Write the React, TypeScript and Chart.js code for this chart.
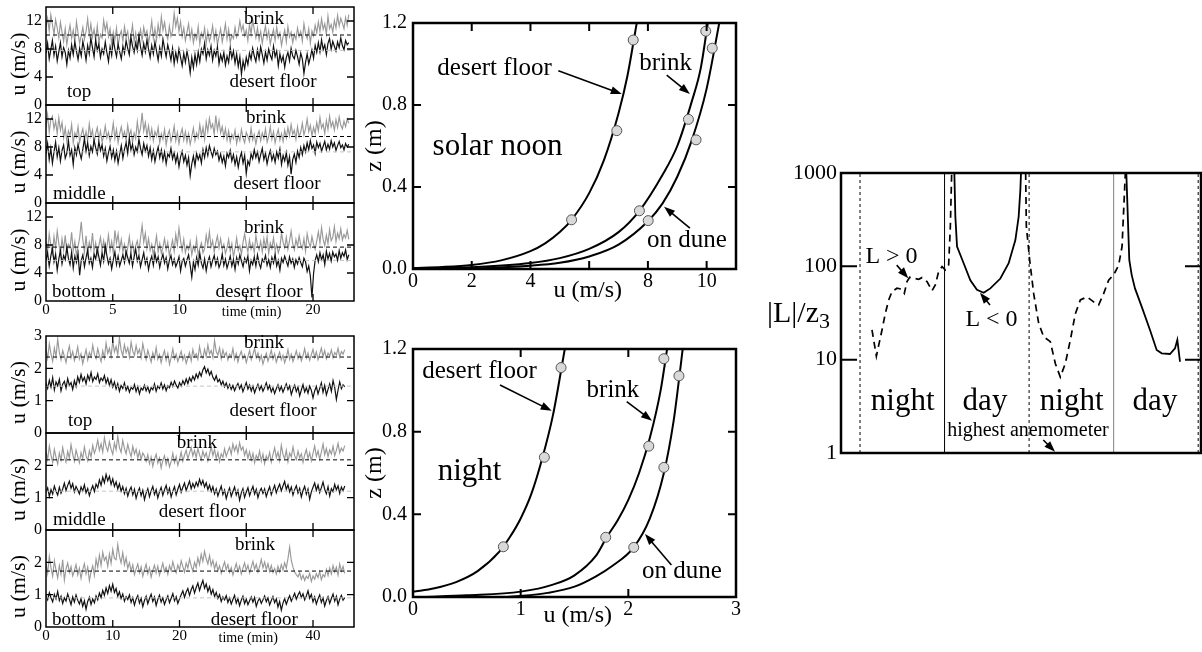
import { useEffect, useRef } from "react";
import { Chart, registerables } from "chart.js";

Chart.register(...registerables);

const PAGE_W = 1202;
const PAGE_H = 652;
const SERIF = '"Liberation Serif", "Times New Roman", "DejaVu Serif", serif';

// ---------- wind speed records (m/s) around solar noon, one sample every 0.12 min ----------
const NOON_STEP = 0.12;
const NOON_TOP_BRINK = [
  11.2, 12.4, 10.6, 12.9, 11.5, 10.1, 12.2, 11.0, 9.6, 11.8, 10.4, 9.1, 10.9, 8.6, 10.2, 11.4, 9.5, 10.7, 9.0, 11.9,
  10.3, 8.8, 9.9, 11.1, 9.4, 10.5, 12.3, 10.0, 11.6, 9.7, 10.8, 9.2, 11.3, 8.9, 10.1, 9.6, 12.1, 10.6, 11.7, 9.8,
  10.9, 8.7, 10.4, 9.3, 11.0, 8.5, 9.9, 10.6, 9.1, 11.2, 9.7, 10.5, 8.6, 9.8, 11.4, 9.0, 10.3, 8.4, 9.6, 10.8,
  9.2, 11.1, 9.9, 10.6, 8.8, 10.2, 12.0, 9.5, 10.9, 9.3, 11.5, 10.0, 12.6, 10.7, 11.8, 10.2, 9.4, 11.3, 9.8, 10.6,
  13.1, 11.2, 12.4, 10.5, 11.9, 9.8, 11.0, 9.2, 10.4, 11.6, 9.5, 10.8, 8.9, 10.1, 9.4, 11.2, 8.7, 10.3, 9.6, 11.0,
  8.8, 10.5, 9.1, 9.9, 11.3, 9.3, 10.6, 8.6, 9.8, 10.9, 9.0, 10.2, 11.6, 9.4, 10.8, 8.9, 10.0, 9.5, 11.1, 9.7,
  10.4, 12.0, 10.6, 11.4, 9.9, 10.7, 9.2, 11.5, 10.1, 12.2, 10.8, 9.6, 11.0, 9.3, 10.5, 8.8, 10.2, 11.3, 9.5, 10.6,
  8.7, 9.9, 10.8, 9.2, 11.1, 9.6, 10.3, 8.5, 9.8, 10.7, 9.0, 11.2, 9.7, 10.4, 8.9, 10.1, 9.4, 11.0, 9.8, 10.5,
  9.1, 11.6, 10.2, 9.5, 10.9, 8.8, 10.6, 9.9, 11.4, 10.3, 11.9, 10.5, 12.3, 10.8, 11.6, 10.1, 12.7, 10.9, 11.5, 10.4,
  12.1, 11.0, 12.8, 11.3, 12.4, 11.7, 10.9, 12.5, 11.4, 12.9,
];
const NOON_TOP_FLOOR = [
  7.4, 8.8, 6.6, 7.9, 9.2, 7.1, 8.4, 6.3, 7.6, 8.9, 6.9, 8.2, 7.5, 5.8, 7.8, 6.7, 8.6, 7.2, 9.0, 7.7,
  6.5, 8.1, 7.0, 9.1, 7.9, 6.4, 8.5, 7.3, 9.6, 8.2, 6.9, 9.3, 7.8, 8.7, 6.8, 8.0, 7.3, 9.0, 7.5, 6.2,
  8.3, 7.1, 9.4, 8.0, 6.9, 8.7, 7.6, 6.6, 8.4, 7.4, 9.2, 8.1, 7.2, 9.7, 8.4, 7.5, 8.9, 7.8, 9.9, 8.3,
  7.1, 8.8, 7.6, 9.3, 8.0, 6.8, 8.5, 7.3, 9.0, 7.7, 6.4, 8.2, 7.0, 9.4, 8.1, 6.9, 8.6, 7.6, 6.4, 8.1,
  5.9, 7.5, 6.3, 8.0, 6.8, 5.6, 7.4, 6.1, 7.7, 6.5, 4.6, 6.8, 5.3, 7.2, 5.8, 7.6, 6.2, 8.0, 7.3, 8.8,
  6.6, 7.9, 7.1, 8.4, 6.4, 7.8, 7.0, 8.3, 5.9, 7.2, 6.3, 7.5, 5.7, 7.0, 6.1, 8.2, 6.7, 7.7, 6.0, 7.3,
  5.5, 6.9, 4.4, 6.3, 5.2, 6.8, 5.8, 7.4, 6.5, 8.1, 7.0, 6.2, 7.9, 6.6, 8.3, 7.2, 6.0, 7.6, 6.4, 8.0,
  7.1, 6.5, 8.4, 6.9, 7.7, 5.6, 7.3, 6.2, 7.0, 5.4, 6.8, 7.5, 6.3, 8.1, 7.0, 6.6, 7.8, 6.9, 5.8, 7.4,
  6.6, 4.5, 6.1, 7.3, 5.9, 6.8, 7.9, 6.7, 8.5, 7.5, 8.9, 7.6, 9.3, 7.9, 8.6, 7.2, 8.8, 9.5, 8.0, 9.1,
  8.4, 7.7, 9.0, 8.2, 9.6, 8.5, 7.9, 9.2, 8.6, 8.9,
];
const NOON_MID_BRINK = [
  10.8, 12.6, 10.1, 11.9, 12.4, 10.6, 11.7, 9.9, 12.2, 10.4, 11.5, 9.3, 10.7, 8.8, 10.3, 9.6, 11.2, 8.6, 10.0, 9.4,
  10.9, 8.7, 9.8, 10.6, 9.0, 10.2, 8.9, 11.3, 9.5, 10.4, 8.5, 9.9, 10.8, 9.1, 10.3, 8.7, 9.6, 11.0, 9.3, 10.1,
  8.8, 9.7, 11.4, 9.2, 10.5, 8.6, 9.9, 10.9, 9.4, 10.2, 8.9, 11.1, 9.6, 10.4, 8.7, 10.0, 9.2, 11.6, 9.8, 10.7,
  12.9, 10.3, 11.5, 9.6, 11.0, 9.3, 10.6, 8.9, 10.2, 9.5, 10.8, 8.6, 9.9, 9.1, 10.5, 8.3, 9.7, 10.4, 8.8, 9.6,
  11.0, 8.9, 10.1, 8.5, 9.8, 10.6, 9.0, 10.2, 8.7, 9.9, 8.4, 9.5, 10.7, 8.9, 10.0, 9.3, 11.2, 9.6, 10.8, 9.1,
  11.6, 10.2, 12.1, 10.7, 11.3, 9.8, 12.5, 10.4, 11.8, 10.0, 10.9, 9.4, 10.6, 9.0, 10.3, 8.7, 9.8, 9.2, 10.4, 8.5,
  9.7, 8.9, 10.5, 9.3, 8.6, 10.1, 9.5, 8.8, 10.7, 9.0, 9.8, 8.4, 9.6, 10.3, 8.9, 10.0, 9.2, 10.6, 8.7, 9.5,
  10.9, 9.1, 10.2, 8.6, 9.7, 10.5, 9.0, 9.9, 8.8, 10.4, 9.3, 10.8, 9.6, 11.2, 9.8, 10.4, 9.1, 10.9, 9.5, 10.1,
  11.4, 9.7, 10.6, 12.0, 10.2, 11.1, 9.6, 10.8, 9.9, 11.5, 10.3, 12.2, 10.7, 11.3, 9.9, 11.8, 10.5, 12.4, 10.9, 11.6,
  10.4, 11.9, 10.8, 12.3, 11.1, 10.6, 11.7, 10.9, 12.0, 11.4,
];
const NOON_MID_FLOOR = [
  7.0, 8.5, 6.2, 7.8, 5.7, 7.3, 8.7, 6.6, 7.9, 6.0, 7.5, 8.3, 6.4, 7.1, 8.9, 6.8, 7.6, 5.5, 7.9, 6.9,
  8.4, 7.2, 6.3, 7.7, 9.2, 7.4, 8.6, 6.8, 8.1, 7.3, 9.0, 7.9, 7.0, 8.8, 7.5, 8.3, 6.7, 7.8, 6.0, 7.2,
  8.1, 6.5, 7.6, 6.1, 7.4, 5.7, 7.0, 8.2, 6.4, 7.7, 8.6, 7.1, 9.3, 7.6, 8.4, 6.9, 8.0, 7.3, 9.1, 7.8,
  6.9, 8.5, 7.4, 8.2, 6.7, 7.9, 6.2, 7.5, 5.9, 7.1, 8.0, 6.5, 7.6, 6.1, 7.3, 5.6, 7.0, 6.6, 7.8, 6.3,
  7.2, 5.8, 6.9, 5.2, 6.6, 7.4, 5.9, 6.8, 5.4, 6.5, 3.9, 5.6, 6.7, 5.3, 7.1, 6.2, 6.9, 5.7, 7.6, 6.5,
  7.9, 6.8, 8.2, 7.3, 6.6, 7.8, 6.9, 7.4, 6.1, 7.0, 5.8, 6.7, 5.3, 7.1, 6.5, 7.5, 6.0, 6.9, 5.5, 6.6,
  5.1, 6.4, 7.2, 5.7, 6.8, 4.2, 6.0, 5.4, 7.0, 6.3, 7.6, 6.5, 7.3, 5.9, 6.9, 7.8, 6.2, 7.1, 5.6, 6.7,
  7.5, 6.1, 6.9, 5.8, 7.3, 6.4, 7.7, 5.5, 6.8, 6.0, 7.2, 5.4, 6.6, 4.1, 6.2, 7.0, 5.8, 7.4, 6.5, 7.9,
  6.9, 8.2, 7.3, 8.6, 7.6, 8.9, 7.8, 8.3, 7.1, 8.7, 7.9, 8.5, 7.4, 8.1, 8.8, 7.6, 8.4, 7.7, 8.9, 8.0,
  8.6, 7.5, 8.2, 8.8, 7.9, 8.3, 7.6, 8.5, 8.0, 8.4,
];
const NOON_BOT_BRINK = [
  8.4, 7.1, 9.6, 8.0, 6.8, 9.2, 7.5, 10.0, 8.2, 6.6, 8.9, 7.3, 9.4, 6.9, 8.1, 7.6, 9.8, 7.2, 8.5, 6.5,
  7.8, 9.0, 11.3, 8.7, 7.0, 9.3, 6.7, 8.4, 7.4, 9.7, 7.1, 8.3, 6.6, 7.9, 9.1, 7.3, 8.6, 6.9, 7.7, 9.4,
  7.2, 8.5, 6.8, 10.1, 8.3, 9.6, 7.4, 8.8, 7.0, 8.1, 6.4, 7.6, 9.2, 7.1, 8.3, 6.7, 7.9, 8.6, 7.0, 9.0,
  10.8, 8.4, 9.7, 7.5, 8.9, 7.2, 8.1, 6.6, 7.8, 9.3, 7.0, 8.2, 6.8, 7.7, 8.9, 7.3, 8.4, 6.5, 7.6, 8.7,
  7.1, 9.5, 8.0, 10.4, 8.6, 7.2, 8.8, 6.9, 7.9, 7.3, 8.5, 6.6, 7.8, 7.1, 8.9, 6.4, 7.6, 8.3, 6.9, 7.5,
  9.4, 8.0, 9.9, 7.7, 8.6, 7.0, 8.3, 9.3, 7.6, 8.9, 7.4, 8.1, 6.8, 7.6, 8.8, 7.1, 8.2, 6.3, 7.5, 9.0,
  7.2, 7.9, 6.7, 8.4, 9.6, 8.1, 7.0, 8.7, 7.4, 8.2, 6.9, 9.4, 8.0, 7.3, 8.5, 7.0, 8.9, 7.6, 9.2, 6.8,
  8.3, 7.5, 9.0, 7.2, 8.1, 6.9, 7.7, 9.7, 8.4, 7.6, 9.1, 7.4, 8.6, 10.0, 8.2, 7.3, 8.8, 7.8, 9.3, 8.0,
  7.5, 8.9, 7.1, 9.6, 8.4, 7.7, 9.2, 8.1, 7.4, 8.6, 9.9, 8.3, 10.5, 8.8, 7.9, 9.4, 8.2, 10.2, 8.6, 9.1,
  10.6, 8.5, 9.7, 8.9, 10.3, 8.7, 9.5, 9.0, 10.1, 8.8,
];
const NOON_BOT_FLOOR = [
  5.8, 6.9, 5.0, 6.4, 7.5, 5.6, 6.7, 4.4, 6.0, 7.2, 5.3, 6.5, 5.9, 7.7, 6.1, 5.2, 7.0, 4.7, 6.4, 5.5,
  6.8, 3.7, 5.8, 6.6, 4.9, 6.2, 7.3, 5.4, 6.1, 4.8, 6.7, 6.0, 7.4, 6.3, 5.1, 6.9, 5.7, 7.9, 6.5, 5.3,
  6.1, 4.6, 5.9, 7.0, 5.2, 6.4, 5.0, 5.8, 6.6, 5.5, 7.1, 6.2, 5.4, 6.8, 5.0, 6.3, 7.4, 5.7, 6.5, 4.9,
  5.9, 6.9, 5.3, 6.1, 4.5, 5.7, 6.4, 5.1, 6.8, 5.6, 6.3, 4.8, 5.9, 6.7, 5.4, 6.2, 4.6, 5.8, 6.5, 5.2,
  6.0, 4.9, 5.5, 6.3, 4.3, 5.7, 6.1, 5.0, 5.9, 6.6, 5.1, 3.4, 5.6, 4.5, 6.2, 5.1, 6.8, 5.4, 4.7, 6.0,
  4.3, 5.6, 6.3, 4.9, 5.8, 6.5, 5.2, 6.1, 4.8, 5.4, 6.7, 5.1, 6.0, 4.7, 5.5, 6.4, 5.0, 5.9, 4.5, 6.2,
  5.3, 6.6, 5.7, 4.9, 6.1, 5.5, 6.4, 4.3, 5.8, 5.2, 6.3, 5.0, 6.6, 5.4, 4.7, 6.0, 5.6, 6.5, 5.1, 5.9,
  4.8, 6.2, 5.4, 6.7, 5.0, 5.8, 4.4, 6.1, 5.5, 6.4, 5.7, 5.0, 6.3, 5.4, 6.0, 4.8, 5.9, 5.3, 6.2, 5.5,
  4.9, 6.1, 5.6, 4.2, 5.0, 3.6, 0.5, 3.9, 5.8, 6.6, 5.6, 6.9, 5.9, 6.6, 5.2, 7.1, 6.0, 6.8, 5.7, 7.0,
  6.3, 6.7, 5.8, 7.2, 6.1, 6.9, 6.4, 7.3, 5.9, 6.6,
];

// ---------- wind speed records (m/s) at night, one sample every 0.25 min ----------
const NIGHT_STEP = 0.25;
const NIGHT_TOP_BRINK = [
  2.58, 2.31, 2.76, 2.44, 2.22, 2.63, 2.36, 2.91, 2.49, 2.27, 2.55, 2.38, 2.18, 2.47, 2.69, 2.33, 2.52, 2.24, 2.41, 2.66,
  2.29, 2.45, 2.14, 2.37, 2.58, 2.26, 2.49, 2.35, 2.72, 2.43, 2.30, 2.61, 2.39, 2.21, 2.54, 2.32, 2.78, 2.46, 2.62, 2.37,
  2.85, 2.51, 2.68, 2.42, 2.94, 2.57, 2.39, 2.73, 2.48, 2.64, 2.35, 2.81, 2.53, 2.40, 2.70, 2.45, 2.59, 2.33, 2.76, 2.50,
  2.27, 2.56, 2.38, 2.19, 2.48, 2.31, 2.64, 2.28, 2.43, 2.17, 2.39, 2.55, 2.25, 2.46, 2.12, 2.34, 2.60, 2.29, 2.44, 2.21,
  2.37, 2.53, 2.26, 2.41, 2.15, 2.32, 2.49, 2.23, 2.58, 2.36, 2.45, 2.28, 2.67, 2.40, 2.31, 2.59, 2.37, 2.72, 2.44, 2.55,
  2.34, 2.86, 2.52, 2.41, 2.63, 2.30, 2.57, 2.38, 2.49, 2.26, 2.44, 2.35, 2.61, 2.28, 2.46, 2.20, 2.39, 2.53, 2.30, 2.42,
  2.18, 2.36, 2.55, 2.27, 2.43, 2.62, 2.33, 2.48, 2.24, 2.40, 2.13, 2.31, 2.47, 2.22, 2.38, 2.56, 2.29, 2.45, 2.19, 2.35,
  2.50, 2.26, 2.41, 2.17, 2.33, 2.58, 2.28, 2.44, 2.21, 2.37, 2.54, 2.30, 2.46, 2.23, 2.39, 2.61, 2.32, 2.48, 2.25, 2.42,
  2.59, 2.34, 2.51, 2.27, 2.44, 2.63, 2.36, 2.55, 2.30, 2.47, 2.38, 2.57, 2.33, 2.49, 2.41, 2.62, 2.35, 2.52, 2.44, 2.58,
];
const NIGHT_TOP_FLOOR = [
  1.55, 1.38, 1.63, 1.42, 1.71, 1.33, 1.58, 1.46, 1.66, 1.30, 1.51, 1.60, 1.39, 1.68, 1.47, 1.56, 1.35, 1.62, 1.44, 1.74,
  1.57, 1.81, 1.61, 1.72, 1.52, 1.79, 1.64, 1.87, 1.59, 1.73, 1.66, 1.83, 1.56, 1.70, 1.62, 1.78, 1.54, 1.69, 1.47, 1.65,
  1.42, 1.58, 1.36, 1.53, 1.29, 1.47, 1.38, 1.55, 1.32, 1.44, 1.26, 1.41, 1.35, 1.50, 1.28, 1.44, 1.21, 1.39, 1.33, 1.48,
  1.30, 1.43, 1.25, 1.40, 1.34, 1.52, 1.29, 1.45, 1.38, 1.55, 1.36, 1.49, 1.31, 1.46, 1.40, 1.57, 1.44, 1.61, 1.48, 1.39,
  1.56, 1.45, 1.62, 1.50, 1.67, 1.53, 1.71, 1.60, 1.76, 1.64, 1.82, 1.70, 1.88, 1.76, 1.95, 2.05, 1.86, 1.98, 1.79, 1.90,
  1.72, 1.63, 1.77, 1.58, 1.66, 1.49, 1.60, 1.43, 1.55, 1.38, 1.50, 1.35, 1.47, 1.31, 1.44, 1.53, 1.37, 1.49, 1.28, 1.42,
  1.56, 1.36, 1.48, 1.30, 1.45, 1.24, 1.39, 1.51, 1.33, 1.46, 1.29, 1.41, 1.55, 1.35, 1.47, 1.27, 1.40, 1.22, 1.37, 1.49,
  1.31, 1.44, 1.26, 1.39, 1.52, 1.34, 1.46, 1.19, 1.36, 1.48, 1.28, 1.42, 1.15, 1.33, 1.50, 1.27, 1.40, 1.23, 1.45, 1.32,
  1.09, 1.30, 1.44, 1.21, 1.38, 1.55, 1.26, 1.47, 1.18, 1.35, 1.52, 1.29, 1.62, 1.40, 1.04, 1.33, 1.58, 1.37, 1.49, 1.43,
];
const NIGHT_MID_BRINK = [
  2.42, 2.18, 2.60, 2.31, 2.09, 2.49, 2.25, 2.04, 2.38, 2.16, 2.55, 2.27, 2.10, 2.43, 2.22, 2.64, 2.35, 2.13, 2.47, 2.28,
  2.08, 2.39, 2.21, 2.57, 2.30, 2.14, 2.45, 2.26, 2.62, 2.37, 2.53, 2.78, 2.46, 2.67, 2.41, 2.86, 2.58, 2.44, 2.73, 2.50,
  2.34, 2.69, 2.48, 2.91, 2.55, 2.40, 2.77, 2.52, 2.36, 2.65, 2.43, 2.27, 2.59, 2.35, 2.50, 2.22, 2.44, 2.18, 2.38, 2.29,
  2.12, 2.33, 2.05, 2.26, 1.97, 2.19, 2.34, 2.07, 2.23, 1.92, 2.15, 2.30, 2.02, 2.21, 1.95, 2.12, 2.37, 2.08, 2.27, 2.00,
  2.18, 2.41, 2.13, 2.32, 2.47, 2.20, 2.38, 2.55, 2.29, 2.46, 2.24, 2.52, 2.33, 2.17, 2.44, 2.26, 2.39, 2.14, 2.35, 2.58,
  2.30, 2.49, 2.21, 2.40, 2.12, 2.36, 2.25, 2.51, 2.28, 2.43, 2.56, 2.34, 2.66, 2.45, 2.61, 2.38, 2.70, 2.47, 2.57, 2.31,
  2.48, 2.22, 2.42, 2.16, 2.37, 2.08, 2.31, 2.19, 2.44, 2.13, 2.35, 2.05, 2.29, 2.17, 2.40, 2.10, 2.33, 2.54, 2.24, 2.41,
  2.15, 2.62, 2.34, 2.20, 2.47, 2.11, 2.38, 2.26, 2.57, 2.30, 2.18, 2.44, 2.23, 2.36, 2.09, 2.32, 2.49, 2.21, 2.39, 2.14,
  2.37, 2.60, 2.28, 2.45, 2.19, 2.41, 2.66, 2.33, 2.52, 2.27, 2.48, 2.35, 2.59, 2.30, 2.46, 2.68, 2.39, 2.53, 2.44, 2.61,
];
const NIGHT_MID_FLOOR = [
  1.16, 1.30, 1.04, 1.25, 1.11, 1.36, 1.20, 1.08, 1.32, 1.14, 1.27, 1.45, 1.22, 1.38, 1.51, 1.29, 1.43, 1.18, 1.35, 1.24,
  1.12, 1.33, 1.21, 1.40, 1.15, 1.28, 1.06, 1.24, 1.37, 1.19, 1.42, 1.31, 1.55, 1.38, 1.63, 1.46, 1.72, 1.52, 1.66, 1.41,
  1.58, 1.35, 1.49, 1.27, 1.43, 1.20, 1.34, 1.12, 1.29, 1.05, 1.22, 1.33, 1.09, 1.26, 0.98, 1.17, 1.30, 1.06, 1.23, 0.94,
  1.14, 1.28, 1.03, 1.21, 1.35, 1.10, 1.25, 0.99, 1.18, 1.32, 1.07, 1.24, 1.38, 1.13, 1.29, 1.02, 1.20, 1.34, 1.09, 1.26,
  1.41, 1.17, 1.32, 1.45, 1.22, 1.37, 1.51, 1.28, 1.44, 1.31, 1.48, 1.36, 1.57, 1.40, 1.53, 1.33, 1.46, 1.25, 1.39, 1.19,
  1.34, 1.12, 1.27, 1.05, 1.21, 1.36, 1.10, 1.24, 0.97, 1.16, 1.30, 1.04, 1.19, 1.33, 1.08, 1.23, 0.92, 1.14, 1.28, 1.01,
  1.17, 1.31, 1.06, 1.22, 1.35, 1.11, 1.26, 1.00, 1.19, 1.29, 1.13, 1.27, 1.03, 1.20, 1.34, 1.09, 1.24, 1.38, 1.15, 1.30,
  1.42, 1.21, 1.36, 1.50, 1.26, 1.40, 1.18, 1.33, 1.08, 1.25, 1.37, 1.14, 1.29, 1.02, 1.22, 1.35, 1.11, 1.27, 0.95, 1.18,
  1.32, 1.45, 1.23, 1.39, 1.16, 1.31, 1.48, 1.26, 1.12, 1.34, 1.05, 1.28, 1.19, 1.41, 1.24, 1.37, 1.13, 1.33, 1.21, 1.36,
];
const NIGHT_BOT_BRINK = [
  1.95, 1.66, 2.18, 1.83, 1.57, 2.05, 1.76, 1.52, 1.90, 1.63, 2.08, 1.45, 1.80, 1.98, 1.69, 1.87, 1.58, 1.74, 1.93, 1.61,
  1.82, 1.50, 1.77, 1.96, 1.64, 1.85, 1.43, 1.71, 1.89, 1.60, 2.10, 1.84, 2.22, 1.91, 2.31, 2.06, 2.17, 1.88, 2.26, 1.97,
  2.40, 2.12, 2.08, 2.55, 2.19, 1.98, 2.30, 1.92, 2.14, 1.81, 1.99, 1.73, 1.92, 1.62, 1.80, 1.95, 1.68, 1.86, 1.57, 1.77,
  1.94, 1.65, 1.83, 1.54, 1.75, 1.91, 1.67, 1.88, 1.60, 1.79, 1.97, 1.71, 1.85, 1.63, 1.90, 1.74, 2.02, 1.81, 1.68, 1.92,
  1.76, 2.05, 1.87, 1.70, 1.98, 1.82, 2.10, 1.89, 1.73, 2.00, 1.84, 2.14, 1.93, 2.25, 2.03, 2.34, 2.11, 1.95, 2.21, 1.90,
  2.06, 1.80, 1.99, 1.74, 1.89, 1.66, 1.86, 2.01, 1.77, 1.93, 1.69, 1.84, 1.61, 1.79, 1.96, 1.72, 1.88, 1.64, 1.82, 1.98,
  1.75, 1.91, 1.67, 1.85, 2.03, 1.78, 1.94, 1.70, 1.87, 2.09, 1.83, 2.01, 1.78, 1.96, 1.72, 1.90, 1.69, 1.81, 1.64, 1.88,
  1.71, 1.93, 1.76, 1.99, 1.82, 2.12, 2.47, 2.05, 1.85, 1.70, 1.62, 1.55, 1.68, 1.47, 1.60, 1.44, 1.57, 1.50, 1.66, 1.41,
  1.58, 1.48, 1.65, 1.53, 1.71, 1.46, 1.62, 1.55, 1.78, 1.59, 1.83, 1.64, 1.90, 1.70, 1.85, 1.61, 1.95, 1.73, 1.88, 1.66,
];
const NIGHT_BOT_FLOOR = [
  0.97, 0.84, 1.06, 0.90, 0.78, 1.01, 0.87, 1.10, 0.82, 0.95, 0.73, 0.90, 0.80, 1.02, 0.86, 0.69, 0.93, 0.77, 0.99, 0.83,
  0.71, 0.88, 0.64, 0.81, 0.55, 0.79, 0.92, 0.70, 0.87, 0.75, 0.96, 0.84, 1.05, 0.91, 1.13, 0.98, 1.21, 1.04, 1.28, 1.11,
  1.32, 1.07, 1.19, 0.95, 1.09, 0.88, 1.02, 0.80, 0.94, 0.85, 0.99, 0.76, 0.91, 0.68, 0.86, 0.97, 0.74, 0.89, 0.63, 0.82,
  0.95, 0.72, 0.88, 1.01, 0.79, 0.93, 0.67, 0.85, 0.98, 0.77, 0.90, 0.70, 0.84, 0.96, 0.75, 0.89, 1.03, 0.81, 0.94, 0.73,
  0.87, 1.00, 1.12, 0.92, 1.08, 1.19, 0.98, 1.15, 1.27, 1.05, 1.22, 1.36, 1.13, 1.30, 1.44, 1.20, 1.33, 1.10, 1.25, 1.02,
  1.16, 0.94, 1.07, 0.88, 1.00, 0.79, 0.93, 0.84, 0.97, 0.76, 0.90, 0.71, 0.85, 0.98, 0.74, 0.88, 0.66, 0.83, 0.95, 0.72,
  0.86, 0.69, 0.81, 0.93, 0.77, 0.91, 0.64, 0.80, 0.89, 0.73, 0.84, 0.96, 0.78, 0.90, 0.68, 0.82, 0.94, 0.75, 0.87, 0.62,
  0.79, 0.52, 0.74, 0.88, 0.70, 0.85, 0.97, 0.80, 0.92, 1.04, 0.86, 0.99, 1.09, 0.91, 1.03, 0.84, 0.96, 1.12, 0.89, 1.01,
  0.78, 0.93, 0.71, 0.87, 0.99, 0.76, 0.90, 0.65, 0.82, 0.94, 0.73, 0.88, 1.02, 0.80, 0.95, 0.69, 0.86, 0.98, 0.83, 0.91,
];

// Record means (dashed lines)
const NOON_BRINK_MEAN = [10.0, 9.5, 7.7];
const NOON_FLOOR_MEAN = [7.8, 7.3, 5.8];
const NIGHT_BRINK_MEAN = [2.35, 2.17, 1.73];
const NIGHT_FLOOR_MEAN = [1.45, 1.2, 0.9];

// ---------- mean velocity profiles: u (m/s) against height z (m) ----------
const NOON_FLOOR_U = [0, 1, 2, 3, 4, 4.5, 5, 5.4, 6, 6.5, 7, 7.3, 7.62];
const NOON_FLOOR_Z = [0.005, 0.01, 0.02, 0.042, 0.087, 0.125, 0.18, 0.24, 0.37, 0.53, 0.76, 0.94, 1.2];
const NOON_BRINK_U = [0, 2, 4, 5, 6, 7, 7.71, 8.5, 9, 9.5, 9.8, 10.04];
const NOON_BRINK_Z = [0.001, 0.008, 0.029, 0.053, 0.098, 0.18, 0.284, 0.46, 0.6, 0.82, 0.98, 1.2];
const NOON_DUNE_U = [0, 2, 4, 5, 6, 7, 8, 8.5, 9, 9.5, 10, 10.43];
const NOON_DUNE_Z = [0.0005, 0.003, 0.016, 0.03, 0.061, 0.119, 0.233, 0.32, 0.45, 0.63, 0.88, 1.2];
const NOON_OBS_U = [5.4, 6.94, 7.5, 7.71, 9.38, 9.97, 8.01, 9.64, 10.19];
const NOON_OBS_Z = [0.24, 0.675, 1.117, 0.284, 0.73, 1.16, 0.236, 0.63, 1.077];

const NIGHT_FLOOR_U = [0, 0.2, 0.4, 0.6, 0.8, 0.9, 1.0, 1.1, 1.2, 1.3, 1.41];
const NIGHT_FLOOR_Z = [0.025, 0.042, 0.072, 0.125, 0.218, 0.29, 0.38, 0.5, 0.67, 0.88, 1.2];
const NIGHT_BRINK_U = [0.1, 0.5, 1.0, 1.3, 1.5, 1.7, 1.8, 1.9, 2.0, 2.1, 2.2, 2.3, 2.36];
const NIGHT_BRINK_Z = [0.0, 0.008, 0.026, 0.06, 0.105, 0.2, 0.29, 0.37, 0.47, 0.6, 0.77, 1.0, 1.2];
const NIGHT_DUNE_U = [0.85, 1.0, 1.25, 1.5, 1.7, 1.85, 2.05, 2.2, 2.33, 2.42, 2.47, 2.505];
const NIGHT_DUNE_Z = [0, 0.005, 0.02, 0.05, 0.1, 0.15, 0.24, 0.38, 0.6, 0.85, 1.05, 1.2];
const NIGHT_OBS_U = [0.839, 1.22, 1.375, 1.79, 2.19, 2.33, 2.05, 2.33, 2.47];
const NIGHT_OBS_Z = [0.243, 0.676, 1.11, 0.289, 0.73, 1.153, 0.24, 0.627, 1.07];

// ---------- Obukhov length ratio |L|/z3 over two days (time in hours) ----------
const STABLE1_T = [4.4, 5.02, 5.82, 6.29, 6.77, 7.24, 7.95, 8.66, 8.99, 9.37, 9.75, 10.31, 11.02, 11.5, 12.21, 12.92, 13.39, 13.86, 14.34, 14.81, 15.28, 15.52, 15.71];
const STABLE1_L = [20.8, 10.9, 20.8, 31.3, 43.6, 53.6, 58.2, 56.8, 51.4, 68.6, 76.3, 74.4, 72.6, 75.7, 68.6, 54.9, 63.2, 87.9, 99.4, 91.6, 103.5, 267, 1000];
const UNSTABLE1_T = [16.09, 16.23, 16.47, 17.41, 18.36, 19.3, 20.25, 21.2, 22.62, 23.8, 24.75, 25.22, 25.46, 25.55];
const UNSTABLE1_L = [1000, 343, 163, 108, 71, 56, 52, 58, 74, 108, 191, 341, 662, 1000];
const STABLE2_T = [26.21, 26.31, 26.78, 27.35, 28.06, 28.77, 29.71, 30.42, 31.13, 31.84, 32.55, 33.26, 33.97, 34.92, 35.86, 36.57, 37.28, 37.99, 38.7, 39.41, 39.89, 40.36];
const STABLE2_L = [1000, 267, 117, 51, 24.5, 17.6, 15.6, 9.1, 6.5, 9.1, 16.2, 31, 43.6, 47, 41.6, 38.5, 51, 71, 81, 103, 162, 1000];
const UNSTABLE2_T = [40.5, 40.92, 41.26, 41.73, 42.68, 43.86, 44.81, 45.52, 46.7, 47.41, 47.74, 48.12];
const UNSTABLE2_L = [1000, 117, 81, 58, 37, 20.8, 12.7, 11.7, 11.5, 13.2, 16.3, 9.5];
const SUN_T = [2.7, 14.7, 26.7, 38.7, 50.7];
const SUN_KIND = ["dash", "solid", "dash", "gray", "dash"];

// ---------------------------------------------------------------------------

type XY = { x: number; y: number };
const toSeries = (vals: number[], step: number): XY[] => vals.map((v, i) => ({ x: i * step, y: v }));
const zip = (xs: number[], ys: number[]): XY[] => xs.map((x, i) => ({ x, y: ys[i] }));
const hline = (y: number, x0: number, x1: number): XY[] => [{ x: x0, y }, { x: x1, y }];

type Box = { left: number; top: number; right: number; bottom: number };
type Axis = { min: number; max: number; labels: number[]; size: number; pad: number; fmt?: (v: number) => string; log?: boolean };
type Label = { x: number; y: number; text: string; size: number; align?: CanvasTextAlign };
type Arrow = { x1: number; y1: number; x2: number; y2: number };
type Deco = {
  frame: number;
  tickLen: number;
  tickWidth: number;
  xMarks: number[];
  yMarks: number[];
  labels: Label[];
  arrows: Arrow[];
  draw?: (ctx: CanvasRenderingContext2D, a: Box, sx: any, sy: any) => void;
};

// Axis boxes take the full margin between the canvas edge and the plot frame,
// so the plot area lands exactly on the requested box.
function scaleOpts(a: Axis, span: number) {
  return {
    type: a.log ? "logarithmic" : "linear",
    min: a.min,
    max: a.max,
    afterBuildTicks: (s: any) => {
      s.ticks = a.labels.map((value) => ({ value }));
    },
    afterFit: (s: any) => {
      if (s.isHorizontal()) s.height = span;
      else s.width = span;
      s.paddingLeft = 0;
      s.paddingRight = 0;
      s.paddingTop = 0;
      s.paddingBottom = 0;
    },
    grid: { display: false, drawTicks: false },
    border: { display: false },
    ticks: {
      display: a.labels.length > 0,
      autoSkip: false,
      maxRotation: 0,
      minRotation: 0,
      padding: a.pad,
      color: "#000",
      font: { family: SERIF, size: a.size },
      callback: (v: any) => (a.fmt ? a.fmt(Number(v)) : String(v)),
    },
  };
}

function drawArrow(ctx: CanvasRenderingContext2D, x1: number, y1: number, x2: number, y2: number) {
  const ang = Math.atan2(y2 - y1, x2 - x1);
  const len = 11;
  const half = 4;
  const c = Math.cos(ang);
  const s = Math.sin(ang);
  ctx.lineWidth = 1.6;
  ctx.beginPath();
  ctx.moveTo(x1, y1);
  ctx.lineTo(x2 - len * 0.8 * c, y2 - len * 0.8 * s);
  ctx.stroke();
  ctx.beginPath();
  ctx.moveTo(x2, y2);
  ctx.lineTo(x2 - len * c + half * s, y2 - len * s - half * c);
  ctx.lineTo(x2 - len * c - half * s, y2 - len * s + half * c);
  ctx.closePath();
  ctx.fill();
}

function vText(ctx: CanvasRenderingContext2D, text: string, x: number, y: number, size: number) {
  ctx.save();
  ctx.translate(x, y);
  ctx.rotate(-Math.PI / 2);
  ctx.font = `${size}px ${SERIF}`;
  ctx.textAlign = "center";
  ctx.textBaseline = "middle";
  ctx.fillText(text, 0, 0);
  ctx.restore();
}

function decoPlugin(d: Deco) {
  return {
    id: "deco",
    afterDatasetsDraw(chart: any) {
      const ctx: CanvasRenderingContext2D = chart.ctx;
      const a: Box = chart.chartArea;
      const sx = chart.scales.x;
      const sy = chart.scales.y;
      ctx.save();
      ctx.strokeStyle = "#000";
      ctx.fillStyle = "#000";
      ctx.lineWidth = d.tickWidth;
      ctx.beginPath();
      d.xMarks.forEach((v) => {
        const p = sx.getPixelForValue(v);
        ctx.moveTo(p, a.bottom);
        ctx.lineTo(p, a.bottom - d.tickLen);
        ctx.moveTo(p, a.top);
        ctx.lineTo(p, a.top + d.tickLen);
      });
      d.yMarks.forEach((v) => {
        const p = sy.getPixelForValue(v);
        ctx.moveTo(a.left, p);
        ctx.lineTo(a.left + d.tickLen, p);
        ctx.moveTo(a.right, p);
        ctx.lineTo(a.right - d.tickLen, p);
      });
      ctx.stroke();
      ctx.lineWidth = d.frame;
      ctx.strokeRect(a.left, a.top, a.right - a.left, a.bottom - a.top);
      ctx.textBaseline = "alphabetic";
      d.labels.forEach((l) => {
        ctx.font = `${l.size}px ${SERIF}`;
        ctx.textAlign = l.align ?? "center";
        ctx.fillText(l.text, sx.getPixelForValue(l.x), sy.getPixelForValue(l.y));
      });
      d.arrows.forEach((r) =>
        drawArrow(ctx, sx.getPixelForValue(r.x1), sy.getPixelForValue(r.y1), sx.getPixelForValue(r.x2), sy.getPixelForValue(r.y2))
      );
      if (d.draw) d.draw(ctx, a, sx, sy);
      ctx.restore();
    },
  };
}

function makeConfig(area: Box, datasets: any[], x: Axis, y: Axis, deco: Deco): any {
  return {
    type: "scatter",
    data: { datasets },
    options: {
      responsive: false,
      animation: false,
      events: [],
      layout: {
        padding: { left: 0, top: area.top, right: PAGE_W - area.right, bottom: 0 },
      },
      plugins: { legend: { display: false }, tooltip: { enabled: false } },
      scales: { x: scaleOpts(x, PAGE_H - area.bottom), y: scaleOpts(y, area.left) },
    },
    plugins: [decoPlugin(deco)],
  };
}

const line = (data: XY[], color: string, width: number, order: number, dash: number[] = []) => ({
  data,
  showLine: true,
  pointRadius: 0,
  borderColor: color,
  borderWidth: width,
  borderDash: dash,
  order,
});

// ---------- time-record panels ----------
type TraceSpec = {
  area: Box;
  brink: number[];
  floor: number[];
  brinkMean: number;
  floorMean: number;
  step: number;
  xMax: number;
  yMax: number;
  xMarks: number[];
  yMarks: number[];
  xLabels: number[];
  yLabels: number[];
  labels: Label[];
  timeAt?: number;
};

function traceConfig(p: TraceSpec) {
  const datasets = [
    line(hline(p.brinkMean, 0, p.xMax), "#000", 1, 0, [4, 3]),
    line(hline(p.floorMean, 0, p.xMax), "#c4c4c4", 1, 1, [4, 3]),
    line(toSeries(p.floor, p.step), "#111", 1.2, 2),
    line(toSeries(p.brink, p.step), "#999", 1.15, 3),
  ];
  return makeConfig(
    p.area,
    datasets,
    { min: 0, max: p.xMax, labels: p.xLabels, size: 15, pad: 0 },
    { min: 0, max: p.yMax, labels: p.yLabels, size: 16, pad: 4 },
    {
      frame: 1.5,
      tickLen: 7,
      tickWidth: 1.3,
      xMarks: p.xMarks,
      yMarks: p.yMarks,
      labels: p.labels,
      arrows: [],
      draw: (ctx, a, sx) => {
        vText(ctx, "u (m/s)", 19, (a.top + a.bottom) / 2 + 8, 22);
        if (p.timeAt !== undefined) {
          ctx.font = `14px ${SERIF}`;
          ctx.textAlign = "center";
          ctx.fillText("time (min)", sx.getPixelForValue(p.timeAt), a.bottom + 15);
        }
      },
    }
  );
}

const NOON_AREAS: Box[] = [
  { left: 46, right: 354, top: 7, bottom: 105 },
  { left: 46, right: 354, top: 105, bottom: 203 },
  { left: 46, right: 354, top: 203, bottom: 301 },
];
const NIGHT_AREAS: Box[] = [
  { left: 46, right: 354, top: 336, bottom: 433 },
  { left: 46, right: 354, top: 433, bottom: 530 },
  { left: 46, right: 354, top: 530, bottom: 627 },
];
const NOON_RECORDS = [
  [NOON_TOP_BRINK, NOON_TOP_FLOOR],
  [NOON_MID_BRINK, NOON_MID_FLOOR],
  [NOON_BOT_BRINK, NOON_BOT_FLOOR],
];
const NIGHT_RECORDS = [
  [NIGHT_TOP_BRINK, NIGHT_TOP_FLOOR],
  [NIGHT_MID_BRINK, NIGHT_MID_FLOOR],
  [NIGHT_BOT_BRINK, NIGHT_BOT_FLOOR],
];
const NOON_TEXT: Label[][] = [
  [
    { x: 16.33, y: 11.57, text: "brink", size: 19 },
    { x: 17.0, y: 2.57, text: "desert floor", size: 19 },
    { x: 1.57, y: 1.14, text: "top", size: 19, align: "left" },
  ],
  [
    { x: 16.48, y: 11.47, text: "brink", size: 19 },
    { x: 17.3, y: 2.0, text: "desert floor", size: 19 },
    { x: 0.52, y: 0.57, text: "middle", size: 19, align: "left" },
  ],
  [
    { x: 16.33, y: 9.71, text: "brink", size: 19 },
    { x: 15.96, y: 0.61, text: "desert floor", size: 19 },
    { x: 0.45, y: 0.61, text: "bottom", size: 19, align: "left" },
  ],
];
const NIGHT_TEXT: Label[][] = [
  [
    { x: 32.66, y: 2.62, text: "brink", size: 19 },
    { x: 34.0, y: 0.53, text: "desert floor", size: 19 },
    { x: 3.3, y: 0.22, text: "top", size: 19, align: "left" },
  ],
  [
    { x: 22.6, y: 2.55, text: "brink", size: 19 },
    { x: 23.4, y: 0.41, text: "desert floor", size: 19 },
    { x: 1.05, y: 0.15, text: "middle", size: 19, align: "left" },
  ],
  [
    { x: 31.3, y: 2.38, text: "brink", size: 19 },
    { x: 31.2, y: 0.06, text: "desert floor", size: 19 },
    { x: 0.9, y: 0.06, text: "bottom", size: 19, align: "left" },
  ],
];

const traceConfigs = [
  ...NOON_AREAS.map((area, i) =>
    traceConfig({
      area,
      brink: NOON_RECORDS[i][0],
      floor: NOON_RECORDS[i][1],
      brinkMean: NOON_BRINK_MEAN[i],
      floorMean: NOON_FLOOR_MEAN[i],
      step: NOON_STEP,
      xMax: 23.07,
      yMax: 14,
      xMarks: [5, 10, 15, 20],
      yMarks: [4, 8, 12],
      xLabels: i === 2 ? [0, 5, 10, 20] : [],
      yLabels: [0, 4, 8, 12],
      labels: NOON_TEXT[i],
      timeAt: i === 2 ? 15.4 : undefined,
    })
  ),
  ...NIGHT_AREAS.map((area, i) =>
    traceConfig({
      area,
      brink: NIGHT_RECORDS[i][0],
      floor: NIGHT_RECORDS[i][1],
      brinkMean: NIGHT_BRINK_MEAN[i],
      floorMean: NIGHT_FLOOR_MEAN[i],
      step: NIGHT_STEP,
      xMax: 46.14,
      yMax: 3,
      xMarks: [10, 20, 30, 40],
      yMarks: [1, 2],
      xLabels: i === 2 ? [0, 10, 20, 40] : [],
      yLabels: i === 0 ? [0, 1, 2, 3] : [0, 1, 2],
      labels: NIGHT_TEXT[i],
      timeAt: i === 2 ? 30.3 : undefined,
    })
  ),
];

// ---------- profile panels ----------
function profileConfig(
  area: Box,
  uMax: number,
  xMarks: number[],
  xLabels: number[],
  curves: XY[][],
  obs: XY[],
  labels: Label[],
  arrows: Arrow[],
  uTitleAt: number,
  uTitleDy: number
) {
  const datasets = [
    {
      data: obs,
      pointRadius: 5,
      pointBackgroundColor: "#d9d9d9",
      pointBorderColor: "#555",
      pointBorderWidth: 1,
      showLine: false,
      order: 0,
    },
    ...curves.map((c) => ({ ...line(c, "#000", 2, 1), cubicInterpolationMode: "monotone" })),
  ];
  return makeConfig(
    area,
    datasets,
    { min: 0, max: uMax, labels: xLabels, size: 20, pad: 1 },
    { min: 0, max: 1.2, labels: [0, 0.4, 0.8, 1.2], size: 20, pad: 6, fmt: (v) => v.toFixed(1) },
    {
      frame: 2.5,
      tickLen: 8,
      tickWidth: 2,
      xMarks,
      yMarks: [0.4, 0.8],
      labels,
      arrows,
      draw: (ctx, a, sx) => {
        vText(ctx, "z (m)", a.left - 38, (a.top + a.bottom) / 2, 24);
        ctx.font = `24px ${SERIF}`;
        ctx.textAlign = "center";
        ctx.fillText("u (m/s)", sx.getPixelForValue(uTitleAt), a.bottom + uTitleDy);
      },
    }
  );
}

const noonProfile = profileConfig(
  { left: 413, right: 736, top: 23, bottom: 269 },
  11,
  [2, 4, 6, 8, 10],
  [0, 2, 4, 8, 10],
  [zip(NOON_FLOOR_U, NOON_FLOOR_Z), zip(NOON_BRINK_U, NOON_BRINK_Z), zip(NOON_DUNE_U, NOON_DUNE_Z)],
  zip(NOON_OBS_U, NOON_OBS_Z),
  [
    { x: 2.78, y: 0.946, text: "desert floor", size: 25 },
    { x: 8.6, y: 0.971, text: "brink", size: 25 },
    { x: 2.88, y: 0.556, text: "solar noon", size: 31 },
    { x: 9.33, y: 0.107, text: "on dune", size: 25 },
  ],
  [
    { x1: 4.95, y1: 0.967, x2: 7.11, y2: 0.854 },
    { x1: 8.64, y1: 0.946, x2: 9.43, y2: 0.854 },
    { x1: 9.43, y1: 0.199, x2: 8.55, y2: 0.304 },
  ],
  5.95,
  28
);

const nightProfile = profileConfig(
  { left: 413, right: 736, top: 349, bottom: 597 },
  3,
  [1, 2],
  [0, 1, 2, 3],
  [zip(NIGHT_FLOOR_U, NIGHT_FLOOR_Z), zip(NIGHT_BRINK_U, NIGHT_BRINK_Z), zip(NIGHT_DUNE_U, NIGHT_DUNE_Z)],
  zip(NIGHT_OBS_U, NIGHT_OBS_Z),
  [
    { x: 0.618, y: 1.06, text: "desert floor", size: 25 },
    { x: 1.857, y: 0.969, text: "brink", size: 25 },
    { x: 0.525, y: 0.566, text: "night", size: 31 },
    { x: 2.498, y: 0.092, text: "on dune", size: 25 },
  ],
  [
    { x1: 0.808, y1: 1.026, x2: 1.288, y2: 0.901 },
    { x1: 1.985, y1: 0.945, x2: 2.22, y2: 0.853 },
    { x1: 2.4, y1: 0.155, x2: 2.155, y2: 0.305 },
  ],
  1.53,
  25
);

// ---------- stability panel ----------
const sunDatasets = SUN_T.map((t, i) =>
  line(
    [
      { x: t, y: 1 },
      { x: t, y: 1000 },
    ],
    SUN_KIND[i] === "gray" ? "#808080" : "#000",
    1,
    5,
    SUN_KIND[i] === "dash" ? [3, 3] : []
  )
);

const stabilityConfig = makeConfig(
  { left: 841, right: 1201, top: 173, bottom: 453 },
  [
    line(zip(STABLE1_T, STABLE1_L), "#000", 1.7, 1, [7, 5]),
    line(zip(STABLE2_T, STABLE2_L), "#000", 1.7, 1, [7, 5]),
    line(zip(UNSTABLE1_T, UNSTABLE1_L), "#000", 1.8, 1),
    line(zip(UNSTABLE2_T, UNSTABLE2_L), "#000", 1.8, 1),
    ...sunDatasets,
  ],
  { min: 0, max: 51.1, labels: [], size: 20, pad: 0 },
  { min: 1, max: 1000, labels: [1, 10, 100, 1000], size: 22, pad: 4, log: true },
  {
    frame: 2.5,
    tickLen: 16,
    tickWidth: 2,
    xMarks: [],
    yMarks: [10, 100],
    labels: [
      { x: 8.76, y: 2.89, text: "night", size: 31 },
      { x: 20.44, y: 2.89, text: "day", size: 31 },
      { x: 32.75, y: 2.89, text: "night", size: 31 },
      { x: 44.57, y: 2.89, text: "day", size: 31 },
      { x: 26.54, y: 1.52, text: "highest anemometer", size: 20 },
      { x: 7.17, y: 109, text: "L > 0", size: 24 },
      { x: 21.36, y: 23.1, text: "L < 0", size: 24 },
    ],
    arrows: [
      { x1: 28.72, y1: 1.378, x2: 30.38, y2: 1.03 },
      { x1: 7.91, y1: 103, x2: 9.55, y2: 74.5 },
      { x1: 21.15, y1: 38.5, x2: 19.73, y2: 52.2 },
    ],
    draw: (ctx, a) => {
      ctx.textAlign = "right";
      ctx.font = `22px ${SERIF}`;
      const subX = a.left - 11;
      ctx.fillText("3", subX, 328);
      const w3 = ctx.measureText("3").width;
      ctx.font = `30px ${SERIF}`;
      ctx.fillText("|L|/z", subX - w3, 322);
    },
  }
);

const ALL_CONFIGS = [...traceConfigs, noonProfile, nightProfile, stabilityConfig];

function ChartLayer({ config }: { config: any }) {
  const ref = useRef<HTMLCanvasElement | null>(null);
  useEffect(() => {
    if (!ref.current) return;
    const chart = new Chart(ref.current, config);
    return () => chart.destroy();
  }, [config]);
  return (
    <canvas
      ref={ref}
      width={PAGE_W}
      height={PAGE_H}
      style={{ position: "absolute", left: 0, top: 0, width: PAGE_W, height: PAGE_H }}
    />
  );
}

export default function App() {
  return (
    <div style={{ position: "absolute", left: 0, top: 0, width: PAGE_W, height: PAGE_H, background: "#fff", overflow: "hidden" }}>
      {ALL_CONFIGS.map((c, i) => (
        <ChartLayer key={i} config={c} />
      ))}
    </div>
  );
}
